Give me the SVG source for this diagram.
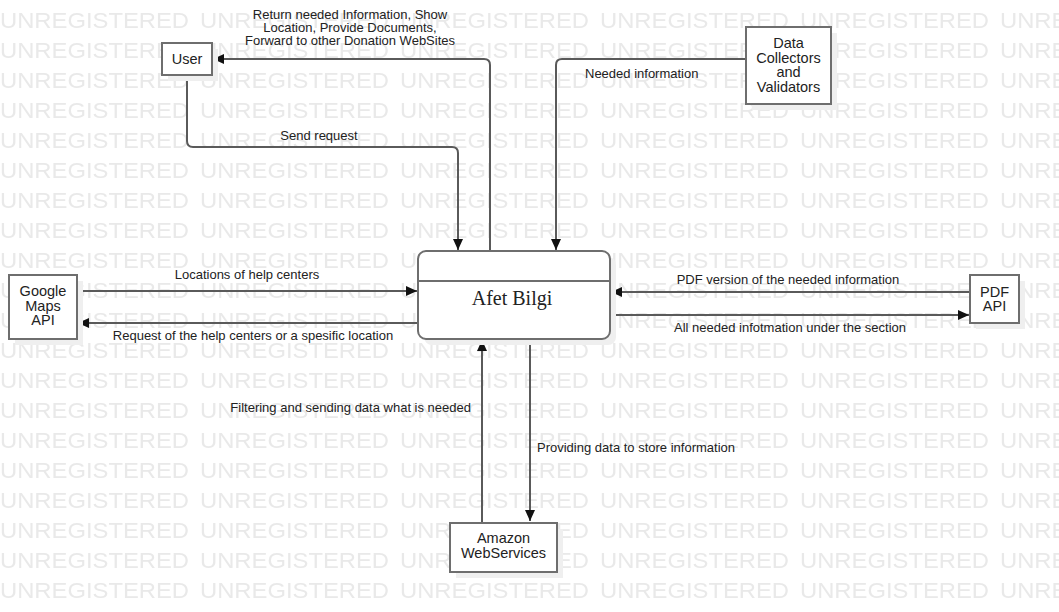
<svg xmlns="http://www.w3.org/2000/svg" width="1059" height="612" viewBox="0 0 1059 612">
<style>
.wm{font-family:"Liberation Sans",Arial,sans-serif;font-size:22px;fill:#e9e9e9}
.box{fill:#fff;stroke:#6e6e6e;stroke-width:2}
.shadow{fill:#efefef}
.nt{font-family:"Liberation Sans",Arial,sans-serif;font-size:14.5px;fill:#222;text-anchor:middle}
.lbl{font-family:"Liberation Sans",Arial,sans-serif;font-size:13px;fill:#222}
.c{fill:none;stroke:#5a5a5a;stroke-width:2}
</style>
<defs>
<pattern id="wmp" patternUnits="userSpaceOnUse" x="0" y="0" width="200" height="30">
<text class="wm" x="0" y="27.5" textLength="189" lengthAdjust="spacingAndGlyphs">UNREGISTERED</text>
</pattern>
<marker id="ah" markerUnits="userSpaceOnUse" markerWidth="12" markerHeight="10" refX="11" refY="5" orient="auto">
<path d="M0,0 L11,5 L0,10 Z" fill="#111"/>
</marker>
</defs>
<rect width="1059" height="612" fill="#fff"/>
<rect width="1059" height="612" fill="url(#wmp)"/>

<g id="connectors">
<path class="c" d="M490,251 V65 Q490,59 484,59 H213" marker-end="url(#ah)"/>
<path class="c" d="M187,75 V141 Q187,147 193,147 H452 Q458,147 458,153 V250" marker-end="url(#ah)"/>
<path class="c" d="M746,59 H562 Q556,59 556,65 V250" marker-end="url(#ah)"/>
<path class="c" d="M77,291 H417" marker-end="url(#ah)"/>
<path class="c" d="M418,323 H78" marker-end="url(#ah)"/>
<path class="c" d="M970,292 H611" marker-end="url(#ah)"/>
<path class="c" d="M610,315 H969" marker-end="url(#ah)"/>
<path class="c" d="M482,522 V340" marker-end="url(#ah)"/>
<path class="c" d="M530,339 V521" marker-end="url(#ah)"/>
<text class="lbl" text-anchor="middle"><tspan x="350" y="19">Return needed Information, Show</tspan><tspan x="350" y="32">Location, Provide Documents,</tspan><tspan x="350" y="45">Forward to other Donation WebSites</tspan></text>
<text class="lbl" x="319" y="140" text-anchor="middle">Send request</text>
<text class="lbl" x="585" y="78">Needed information</text>
<text class="lbl" x="247" y="279" text-anchor="middle">Locations of help centers</text>
<text class="lbl" x="253" y="340" text-anchor="middle">Request of the help centers or a spesific location</text>
<text class="lbl" x="788" y="284" text-anchor="middle">PDF version of the needed information</text>
<text class="lbl" x="790" y="332" text-anchor="middle">All needed infotmation under the section</text>
<text class="lbl" x="471" y="412" text-anchor="end">Filtering and sending data what is needed</text>
<text class="lbl" x="537" y="452">Providing data to store information</text>
</g>

<g id="afet-bilgi">
<rect class="shadow" x="424" y="257" width="192" height="88" rx="8"/>
<rect class="box" x="418" y="251" width="192" height="88" rx="8"/>
<line x1="418" y1="281" x2="610" y2="281" stroke="#6e6e6e" stroke-width="2"/>
<text x="512" y="305" font-family="'Liberation Serif','Times New Roman',serif" font-size="20" fill="#222" text-anchor="middle">Afet Bilgi</text>
</g>

<g id="user">
<rect class="shadow" x="168" y="49" width="50" height="32"/>
<rect class="box" x="162" y="43" width="50" height="32"/>
<text class="nt" x="187" y="64">User</text>
</g>

<g id="data-collectors">
<rect class="shadow" x="752" y="33" width="85" height="77"/>
<rect class="box" x="746" y="27" width="85" height="77"/>
<text class="nt"><tspan x="788.5" y="48">Data</tspan><tspan x="788.5" y="63">Collectors</tspan><tspan x="788.5" y="77">and</tspan><tspan x="788.5" y="92">Validators</tspan></text>
</g>

<g id="google-maps">
<rect class="shadow" x="15" y="281" width="68" height="64"/>
<rect class="box" x="9" y="275" width="68" height="64"/>
<text class="nt"><tspan x="43" y="296">Google</tspan><tspan x="43" y="310.5">Maps</tspan><tspan x="43" y="325">API</tspan></text>
</g>

<g id="pdf-api">
<rect class="shadow" x="976" y="281" width="49" height="48"/>
<rect class="box" x="970" y="275" width="49" height="48"/>
<text class="nt"><tspan x="994.5" y="297">PDF</tspan><tspan x="994.5" y="311">API</tspan></text>
</g>

<g id="amazon">
<rect class="shadow" x="456" y="529" width="107" height="49"/>
<rect class="box" x="450" y="523" width="107" height="49"/>
<text class="nt"><tspan x="503.5" y="543">Amazon</tspan><tspan x="503.5" y="558">WebServices</tspan></text>
</g>
</svg>
